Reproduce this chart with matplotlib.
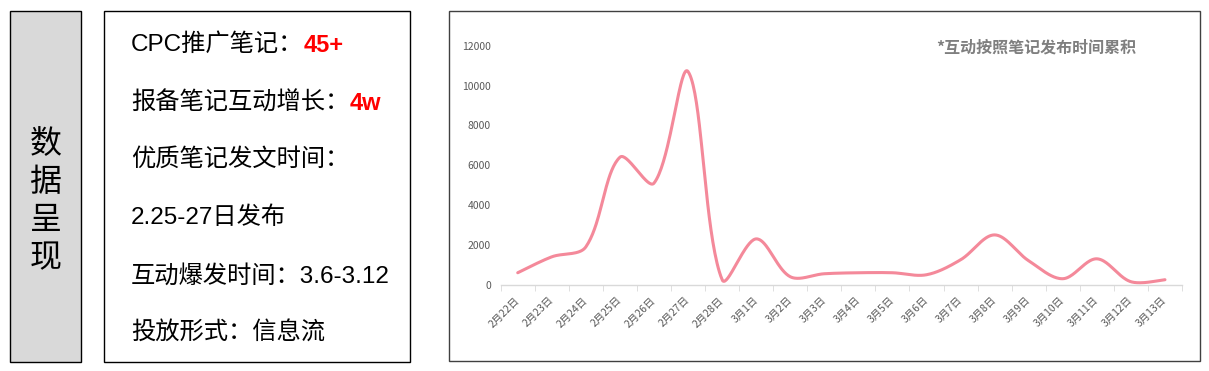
#!/usr/bin/env python3
import numpy as np
import matplotlib.pyplot as plt
from matplotlib.patches import Rectangle


# DATA
dates = ['2月22日', '2月23日', '2月24日', '2月25日', '2月26日', '2月27日', '2月28日',
         '3月1日', '3月2日', '3月3日', '3月4日', '3月5日', '3月6日', '3月7日',
         '3月8日', '3月9日', '3月10日', '3月11日', '3月12日', '3月13日']
interactions = [600, 1400, 1900, 6400, 5100, 10700, 250, 2300, 400, 550,
                600, 600, 500, 1250, 2500, 1200, 300, 1300, 150, 250]
y_ticks = [0, 2000, 4000, 6000, 8000, 10000, 12000]

side_title = '数据呈现'
info_labels = ['CPC推广笔记：', '报备笔记互动增长：', '优质笔记发文时间：',
               '2.25-27日发布', '互动爆发时间：3.6-3.12', '投放形式：信息流']
info_values = ['45+', '4w', '', '', '', '']
note = '*互动按照笔记发布时间累积'

W, H = 1209, 371
CJK = ['Noto Sans CJK SC', 'DejaVu Sans']
MIXED = ['Liberation Sans', 'Noto Sans CJK SC', 'DejaVu Sans']
LINE = '#f4899a'
GREY = '#595959'


def fx(px):
    return px / W


def fy(py):
    return 1 - py / H


# Excel-like smoothing: bezier handles scaled by neighbouring segment lengths (screen space)
def smooth_curve(ax, xs, ys, steps=40):
    pts = ax.transData.transform(np.column_stack([xs, ys]))
    n = len(pts)
    seg = np.linalg.norm(np.diff(pts, axis=0), axis=1)
    out_h = np.zeros_like(pts)
    in_h = np.zeros_like(pts)
    for i in range(n):
        if i == 0:
            t = pts[1] - pts[0]
            out_h[i] = pts[i] + t / 6
            in_h[i] = pts[i]
        elif i == n - 1:
            t = pts[-1] - pts[-2]
            in_h[i] = pts[i] - t / 6
            out_h[i] = pts[i]
        else:
            t = pts[i + 1] - pts[i - 1]
            total = seg[i - 1] + seg[i]
            out_h[i] = pts[i] + t / 3 * seg[i] / total
            in_h[i] = pts[i] - t / 3 * seg[i - 1] / total
    curve = []
    u = np.linspace(0, 1, steps)[:, None]
    for i in range(n - 1):
        p0, p1, p2, p3 = pts[i], out_h[i], in_h[i + 1], pts[i + 1]
        b = ((1 - u) ** 3) * p0 + 3 * ((1 - u) ** 2) * u * p1 + 3 * (1 - u) * u ** 2 * p2 + u ** 3 * p3
        curve.append(b)
    curve = np.vstack(curve)
    return ax.transData.inverted().transform(curve)


fig = plt.figure(figsize=(W / 100, H / 100), dpi=100)
fig.patch.set_facecolor('white')

# left grey label box
fig.add_artist(Rectangle((fx(10), fy(362)), fx(71), 351 / H, transform=fig.transFigure,
                         facecolor='#d9d9d9', edgecolor='black', linewidth=1, zorder=-1))
fig.text(fx(45.5), fy(201), '\n'.join(side_title), ha='center', va='center',
         fontsize=23, family=CJK, color='black', linespacing=1.25)

# info box
fig.add_artist(Rectangle((fx(104), fy(362)), fx(306), 351 / H, transform=fig.transFigure,
                         facecolor='white', edgecolor='black', linewidth=1, zorder=-1))
rows_y = [45, 103, 159, 218, 276, 333]
for label, value, ry in zip(info_labels, info_values, rows_y):
    t = fig.text(fx(131), fy(ry), label, ha='left', va='center', fontsize=17.5,
                 family=MIXED, color='black')
    if value:
        fig.add_artist(plt.Annotation(value, xy=(1, 0.5), xycoords=t, xytext=(0.5, 0),
                                      textcoords='offset points', ha='left', va='center',
                                      fontsize=17, family=MIXED, color='#ff0000',
                                      fontweight='bold'))

# chart box
fig.add_artist(Rectangle((fx(449), fy(361)), fx(751), 350 / H, transform=fig.transFigure,
                         facecolor='none', edgecolor='#404040', linewidth=1, zorder=-1))

ax = fig.add_axes([fx(500.7), fy(284.7), fx(681.3), 239 / H])
ax.set_facecolor('none')
x = np.arange(len(dates))
ax.set_xlim(-0.5, len(dates) - 0.5)
ax.set_ylim(0, 12000)

sx, sy = smooth_curve(ax, x, np.array(interactions, dtype=float)).T
ax.plot(sx, sy, color=LINE, linewidth=2.2, solid_capstyle='round', clip_on=False)

for side in ['top', 'right', 'left']:
    ax.spines[side].set_visible(False)
ax.spines['bottom'].set_color('#d9d9d9')
ax.spines['bottom'].set_linewidth(1)

ax.set_yticks(y_ticks)
ax.set_yticklabels([str(v) for v in y_ticks], family=CJK, fontsize=7.5, color=GREY)
ax.tick_params(axis='y', length=0, pad=7)

ax.set_xticks(x)
ax.set_xticklabels(dates, family=CJK, fontsize=7.5, color=GREY, rotation=45,
                   ha='right', va='center', rotation_mode='anchor')
ax.tick_params(axis='x', which='major', length=0, pad=10)
ax.set_xticks(np.arange(len(dates) + 1) - 0.5, minor=True)
ax.tick_params(axis='x', which='minor', length=4, color='#d9d9d9', direction='out')

fig.text(fx(936), fy(48), note, ha='left', va='center', fontsize=11.5, family=CJK,
         fontweight='bold', color='#7f7f7f')

fig.savefig('out.png', dpi=100)
